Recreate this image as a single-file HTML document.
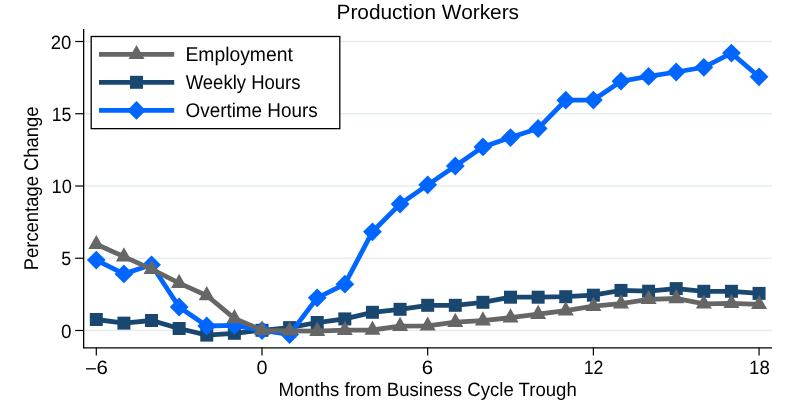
<!DOCTYPE html><html><head><meta charset="utf-8"><style>html,body{margin:0;padding:0;background:#fff;width:794px;height:404px;overflow:hidden}svg{display:block;will-change:transform}text{font-family:"Liberation Sans",sans-serif;fill:#000;text-rendering:geometricPrecision}</style></head><body>
<svg width="794" height="404" viewBox="0 0 794 404">
<rect width="794" height="404" fill="#fff"/>
<line x1="84" x2="772" y1="330.50" y2="330.50" stroke="#e5eeef" stroke-width="1.6"/>
<line x1="84" x2="772" y1="258.25" y2="258.25" stroke="#e5eeef" stroke-width="1.6"/>
<line x1="84" x2="772" y1="186.00" y2="186.00" stroke="#e5eeef" stroke-width="1.6"/>
<line x1="84" x2="772" y1="113.75" y2="113.75" stroke="#e5eeef" stroke-width="1.6"/>
<line x1="84" x2="772" y1="41.50" y2="41.50" stroke="#e5eeef" stroke-width="1.6"/>
<polyline points="96.30,319.50 123.91,323.15 151.53,320.50 179.14,328.50 206.76,335.10 234.38,333.30 261.99,330.30 289.60,327.60 317.22,322.50 344.83,318.90 372.45,312.30 400.06,309.30 427.68,305.30 455.30,305.30 482.91,302.30 510.52,297.20 538.14,297.20 565.75,296.70 593.37,295.20 620.98,290.40 648.60,291.20 676.21,288.60 703.83,291.30 731.44,291.30 759.06,293.40" fill="none" stroke="#1a476f" stroke-width="4.8" stroke-linejoin="miter"/>
<rect x="89.80" y="313.00" width="13.0" height="13.0" fill="#1a476f"/>
<rect x="117.41" y="316.65" width="13.0" height="13.0" fill="#1a476f"/>
<rect x="145.03" y="314.00" width="13.0" height="13.0" fill="#1a476f"/>
<rect x="172.64" y="322.00" width="13.0" height="13.0" fill="#1a476f"/>
<rect x="200.26" y="328.60" width="13.0" height="13.0" fill="#1a476f"/>
<rect x="227.88" y="326.80" width="13.0" height="13.0" fill="#1a476f"/>
<rect x="255.49" y="323.80" width="13.0" height="13.0" fill="#1a476f"/>
<rect x="283.10" y="321.10" width="13.0" height="13.0" fill="#1a476f"/>
<rect x="310.72" y="316.00" width="13.0" height="13.0" fill="#1a476f"/>
<rect x="338.33" y="312.40" width="13.0" height="13.0" fill="#1a476f"/>
<rect x="365.95" y="305.80" width="13.0" height="13.0" fill="#1a476f"/>
<rect x="393.56" y="302.80" width="13.0" height="13.0" fill="#1a476f"/>
<rect x="421.18" y="298.80" width="13.0" height="13.0" fill="#1a476f"/>
<rect x="448.80" y="298.80" width="13.0" height="13.0" fill="#1a476f"/>
<rect x="476.41" y="295.80" width="13.0" height="13.0" fill="#1a476f"/>
<rect x="504.02" y="290.70" width="13.0" height="13.0" fill="#1a476f"/>
<rect x="531.64" y="290.70" width="13.0" height="13.0" fill="#1a476f"/>
<rect x="559.25" y="290.20" width="13.0" height="13.0" fill="#1a476f"/>
<rect x="586.87" y="288.70" width="13.0" height="13.0" fill="#1a476f"/>
<rect x="614.48" y="283.90" width="13.0" height="13.0" fill="#1a476f"/>
<rect x="642.10" y="284.70" width="13.0" height="13.0" fill="#1a476f"/>
<rect x="669.71" y="282.10" width="13.0" height="13.0" fill="#1a476f"/>
<rect x="697.33" y="284.80" width="13.0" height="13.0" fill="#1a476f"/>
<rect x="724.94" y="284.80" width="13.0" height="13.0" fill="#1a476f"/>
<rect x="752.56" y="286.90" width="13.0" height="13.0" fill="#1a476f"/>
<polyline points="96.30,260.10 123.91,273.90 151.53,264.80 179.14,307.00 206.76,326.00 234.38,325.40 261.99,330.50 289.60,334.50 317.22,297.80 344.83,284.20 372.45,231.80 400.06,204.00 427.68,184.85 455.30,166.00 482.91,146.90 510.52,137.60 538.14,128.50 565.75,100.20 593.37,100.05 620.98,81.20 648.60,76.40 676.21,72.00 703.83,67.30 731.44,53.10 759.06,76.80" fill="none" stroke="#0066ff" stroke-width="4.8" stroke-linejoin="miter"/>
<path d="M96.30,250.70L105.70,260.10L96.30,269.50L86.90,260.10Z" fill="#0066ff"/>
<path d="M123.91,264.50L133.31,273.90L123.91,283.30L114.51,273.90Z" fill="#0066ff"/>
<path d="M151.53,255.40L160.93,264.80L151.53,274.20L142.13,264.80Z" fill="#0066ff"/>
<path d="M179.14,297.60L188.54,307.00L179.14,316.40L169.74,307.00Z" fill="#0066ff"/>
<path d="M206.76,316.60L216.16,326.00L206.76,335.40L197.36,326.00Z" fill="#0066ff"/>
<path d="M234.38,316.00L243.78,325.40L234.38,334.80L224.97,325.40Z" fill="#0066ff"/>
<path d="M261.99,321.10L271.39,330.50L261.99,339.90L252.59,330.50Z" fill="#0066ff"/>
<path d="M289.60,325.10L299.00,334.50L289.60,343.90L280.20,334.50Z" fill="#0066ff"/>
<path d="M317.22,288.40L326.62,297.80L317.22,307.20L307.82,297.80Z" fill="#0066ff"/>
<path d="M344.83,274.80L354.23,284.20L344.83,293.60L335.44,284.20Z" fill="#0066ff"/>
<path d="M372.45,222.40L381.85,231.80L372.45,241.20L363.05,231.80Z" fill="#0066ff"/>
<path d="M400.06,194.60L409.46,204.00L400.06,213.40L390.67,204.00Z" fill="#0066ff"/>
<path d="M427.68,175.45L437.08,184.85L427.68,194.25L418.28,184.85Z" fill="#0066ff"/>
<path d="M455.30,156.60L464.69,166.00L455.30,175.40L445.90,166.00Z" fill="#0066ff"/>
<path d="M482.91,137.50L492.31,146.90L482.91,156.30L473.51,146.90Z" fill="#0066ff"/>
<path d="M510.52,128.20L519.92,137.60L510.52,147.00L501.12,137.60Z" fill="#0066ff"/>
<path d="M538.14,119.10L547.54,128.50L538.14,137.90L528.74,128.50Z" fill="#0066ff"/>
<path d="M565.75,90.80L575.15,100.20L565.75,109.60L556.36,100.20Z" fill="#0066ff"/>
<path d="M593.37,90.65L602.77,100.05L593.37,109.45L583.97,100.05Z" fill="#0066ff"/>
<path d="M620.98,71.80L630.38,81.20L620.98,90.60L611.58,81.20Z" fill="#0066ff"/>
<path d="M648.60,67.00L658.00,76.40L648.60,85.80L639.20,76.40Z" fill="#0066ff"/>
<path d="M676.21,62.60L685.61,72.00L676.21,81.40L666.81,72.00Z" fill="#0066ff"/>
<path d="M703.83,57.90L713.23,67.30L703.83,76.70L694.43,67.30Z" fill="#0066ff"/>
<path d="M731.44,43.70L740.84,53.10L731.44,62.50L722.04,53.10Z" fill="#0066ff"/>
<path d="M759.06,67.40L768.46,76.80L759.06,86.20L749.66,76.80Z" fill="#0066ff"/>
<polyline points="96.30,244.30 123.91,256.60 151.53,269.10 179.14,283.10 206.76,295.50 234.38,318.40 261.99,330.30 289.60,330.80 317.22,331.20 344.83,330.10 372.45,330.00 400.06,326.10 427.68,325.80 455.30,322.10 482.91,320.60 510.52,317.70 538.14,314.10 565.75,310.70 593.37,306.10 620.98,303.70 648.60,299.30 676.21,298.50 703.83,303.80 731.44,303.30 759.06,304.30" fill="none" stroke="#666666" stroke-width="4.8" stroke-linejoin="miter"/>
<path d="M96.30,234.90L104.30,249.10L88.30,249.10Z" fill="#666666"/>
<path d="M123.91,247.20L131.91,261.40L115.91,261.40Z" fill="#666666"/>
<path d="M151.53,259.70L159.53,273.90L143.53,273.90Z" fill="#666666"/>
<path d="M179.14,273.70L187.14,287.90L171.14,287.90Z" fill="#666666"/>
<path d="M206.76,286.10L214.76,300.30L198.76,300.30Z" fill="#666666"/>
<path d="M234.38,309.00L242.38,323.20L226.38,323.20Z" fill="#666666"/>
<path d="M261.99,320.90L269.99,335.10L253.99,335.10Z" fill="#666666"/>
<path d="M289.60,321.40L297.60,335.60L281.60,335.60Z" fill="#666666"/>
<path d="M317.22,321.80L325.22,336.00L309.22,336.00Z" fill="#666666"/>
<path d="M344.83,320.70L352.83,334.90L336.83,334.90Z" fill="#666666"/>
<path d="M372.45,320.60L380.45,334.80L364.45,334.80Z" fill="#666666"/>
<path d="M400.06,316.70L408.06,330.90L392.06,330.90Z" fill="#666666"/>
<path d="M427.68,316.40L435.68,330.60L419.68,330.60Z" fill="#666666"/>
<path d="M455.30,312.70L463.30,326.90L447.30,326.90Z" fill="#666666"/>
<path d="M482.91,311.20L490.91,325.40L474.91,325.40Z" fill="#666666"/>
<path d="M510.52,308.30L518.52,322.50L502.52,322.50Z" fill="#666666"/>
<path d="M538.14,304.70L546.14,318.90L530.14,318.90Z" fill="#666666"/>
<path d="M565.75,301.30L573.75,315.50L557.75,315.50Z" fill="#666666"/>
<path d="M593.37,296.70L601.37,310.90L585.37,310.90Z" fill="#666666"/>
<path d="M620.98,294.30L628.98,308.50L612.98,308.50Z" fill="#666666"/>
<path d="M648.60,289.90L656.60,304.10L640.60,304.10Z" fill="#666666"/>
<path d="M676.21,289.10L684.21,303.30L668.21,303.30Z" fill="#666666"/>
<path d="M703.83,294.40L711.83,308.60L695.83,308.60Z" fill="#666666"/>
<path d="M731.44,293.90L739.44,308.10L723.44,308.10Z" fill="#666666"/>
<path d="M759.06,294.90L767.06,309.10L751.06,309.10Z" fill="#666666"/>
<line x1="83.65" x2="83.65" y1="29" y2="348.1" stroke="#000" stroke-width="1.3"/>
<line x1="83" x2="772" y1="347.85" y2="347.85" stroke="#000" stroke-width="1.2"/>
<line x1="75.2" x2="83.6" y1="330.50" y2="330.50" stroke="#000" stroke-width="1.2"/>
<line x1="75.2" x2="83.6" y1="258.25" y2="258.25" stroke="#000" stroke-width="1.2"/>
<line x1="75.2" x2="83.6" y1="186.00" y2="186.00" stroke="#000" stroke-width="1.2"/>
<line x1="75.2" x2="83.6" y1="113.75" y2="113.75" stroke="#000" stroke-width="1.2"/>
<line x1="75.2" x2="83.6" y1="41.50" y2="41.50" stroke="#000" stroke-width="1.2"/>
<line x1="96.30" x2="96.30" y1="347.6" y2="355.6" stroke="#000" stroke-width="1.2"/>
<line x1="261.99" x2="261.99" y1="347.6" y2="355.6" stroke="#000" stroke-width="1.2"/>
<line x1="427.68" x2="427.68" y1="347.6" y2="355.6" stroke="#000" stroke-width="1.2"/>
<line x1="593.37" x2="593.37" y1="347.6" y2="355.6" stroke="#000" stroke-width="1.2"/>
<line x1="759.06" x2="759.06" y1="347.6" y2="355.6" stroke="#000" stroke-width="1.2"/>
<rect x="91.2" y="36.5" width="248.6" height="92.15" fill="#fff" stroke="#000" stroke-width="1.3"/>
<line x1="86.0" x2="95.9" y1="368.8" y2="368.8" stroke="#000" stroke-width="1.3"/>
<line x1="99" x2="174.2" y1="54.3" y2="54.3" stroke="#666666" stroke-width="4.8"/>
<path d="M136.50,44.90L144.50,59.10L128.50,59.10Z" fill="#666666"/>
<line x1="99" x2="174.2" y1="82.3" y2="82.3" stroke="#1a476f" stroke-width="4.8"/>
<rect x="130.00" y="75.80" width="13.0" height="13.0" fill="#1a476f"/>
<line x1="99" x2="174.2" y1="110.4" y2="110.4" stroke="#0066ff" stroke-width="4.8"/>
<path d="M136.50,101.00L145.90,110.40L136.50,119.80L127.10,110.40Z" fill="#0066ff"/>
<text x="336.51" y="19.00" font-size="20.70" textLength="182.51" lengthAdjust="spacingAndGlyphs">Production Workers</text>
<text x="278.46" y="396.00" font-size="19.30" textLength="298.26" lengthAdjust="spacingAndGlyphs">Months from Business Cycle Trough</text>
<text transform="translate(38.00,270.24) rotate(-90)" font-size="19.85" textLength="163.67" lengthAdjust="spacingAndGlyphs">Percentage Change</text>
<text x="185.41" y="61.00" font-size="19.85" textLength="107.45" lengthAdjust="spacingAndGlyphs">Employment</text>
<text x="185.65" y="89.00" font-size="19.85" textLength="114.92" lengthAdjust="spacingAndGlyphs">Weekly Hours</text>
<text x="185.53" y="117.00" font-size="19.85" textLength="132.18" lengthAdjust="spacingAndGlyphs">Overtime Hours</text>
<text x="61.12" y="338.00" font-size="19.30" textLength="10.56" lengthAdjust="spacingAndGlyphs">0</text>
<text x="61.29" y="265.00" font-size="19.30" textLength="9.96" lengthAdjust="spacingAndGlyphs">5</text>
<text x="51.49" y="193.00" font-size="19.30" textLength="20.30" lengthAdjust="spacingAndGlyphs">10</text>
<text x="51.68" y="121.00" font-size="19.30" textLength="19.75" lengthAdjust="spacingAndGlyphs">15</text>
<text x="50.80" y="49.00" font-size="19.30" textLength="20.66" lengthAdjust="spacingAndGlyphs">20</text>
<text x="96.51" y="374.00" font-size="19.30" textLength="11.35" lengthAdjust="spacingAndGlyphs">6</text>
<text x="256.53" y="374.00" font-size="19.30" textLength="11.04" lengthAdjust="spacingAndGlyphs">0</text>
<text x="421.80" y="374.00" font-size="19.30" textLength="11.32" lengthAdjust="spacingAndGlyphs">6</text>
<text x="583.77" y="374.00" font-size="19.30" textLength="19.71" lengthAdjust="spacingAndGlyphs">12</text>
<text x="749.01" y="374.00" font-size="19.30" textLength="20.79" lengthAdjust="spacingAndGlyphs">18</text>
</svg></body></html>
